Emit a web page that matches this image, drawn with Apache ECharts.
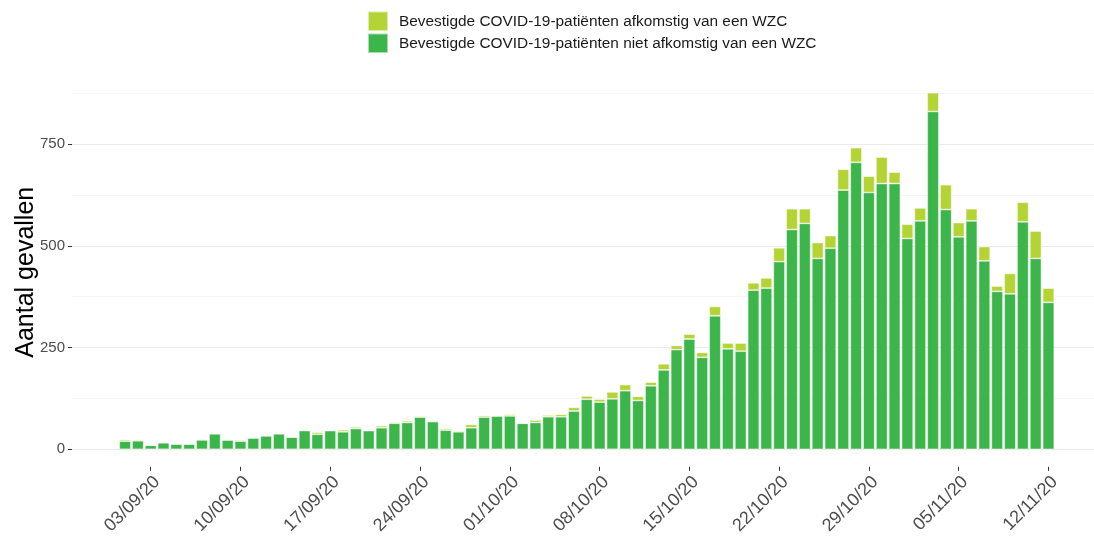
<!DOCTYPE html>
<html>
<head>
<meta charset="utf-8">
<script src="https://cdn.jsdelivr.net/npm/echarts@6/dist/echarts.min.js"></script>
<style>
html,body{margin:0;padding:0;background:#fff;}
#chart{width:1094px;height:538px;}
</style>
</head>
<body>
<div id="chart"></div>
<script>
const dates = [
  "01/09/20","02/09/20","03/09/20","04/09/20","05/09/20","06/09/20","07/09/20","08/09/20","09/09/20","10/09/20",
  "11/09/20","12/09/20","13/09/20","14/09/20","15/09/20","16/09/20","17/09/20","18/09/20","19/09/20","20/09/20",
  "21/09/20","22/09/20","23/09/20","24/09/20","25/09/20","26/09/20","27/09/20","28/09/20","29/09/20","30/09/20",
  "01/10/20","02/10/20","03/10/20","04/10/20","05/10/20","06/10/20","07/10/20","08/10/20","09/10/20","10/10/20",
  "11/10/20","12/10/20","13/10/20","14/10/20","15/10/20","16/10/20","17/10/20","18/10/20","19/10/20","20/10/20",
  "21/10/20","22/10/20","23/10/20","24/10/20","25/10/20","26/10/20","27/10/20","28/10/20","29/10/20","30/10/20",
  "31/10/20","01/11/20","02/11/20","03/11/20","04/11/20","05/11/20","06/11/20","07/11/20","08/11/20","09/11/20",
  "10/11/20","11/11/20","12/11/20"
];
// Bevestigde COVID-19-patiënten niet afkomstig van een WZC
const nietWZC = [
  20,21,10,16,13,13,23,38,23,20,
  28,33,38,30,46,37,46,43,51,46,
  53,64,66,79,68,47,43,53,79,82,
  82,64,66,80,80,94,123,116,124,144,
  120,156,195,245,271,226,328,247,241,391,
  396,461,540,555,469,494,637,705,631,653,
  653,518,561,830,589,522,561,463,388,382,
  559,469,361
];
// Bevestigde COVID-19-patiënten afkomstig van een WZC
const wzc = [
  4,3,0,2,0,0,2,2,0,3,
  0,1,2,0,1,5,0,5,4,0,
  5,3,4,3,3,4,3,8,4,0,
  4,0,6,4,6,9,8,7,17,15,
  10,9,15,10,12,12,23,14,20,18,
  25,34,51,36,39,31,51,36,40,65,
  28,35,32,46,61,35,30,35,13,50,
  48,67,35
];
const xTickLabels = ["03/09/20","10/09/20","17/09/20","24/09/20","01/10/20","08/10/20","15/10/20","22/10/20","29/10/20","05/11/20","12/11/20"];
const yTickValues = [0, 250, 500, 750];
const seriesNames = [
  "Bevestigde COVID-19-patiënten afkomstig van een WZC",
  "Bevestigde COVID-19-patiënten niet afkomstig van een WZC"
];

const xTickIdx = xTickLabels.map(l => dates.indexOf(l));
const font = "'Liberation Sans', Arial, Helvetica, sans-serif";

const chart = echarts.init(document.getElementById('chart'), null, {renderer: 'canvas'});
chart.setOption({
  animation: false,
  backgroundColor: '#ffffff',
  textStyle: {fontFamily: font},
  legend: {
    orient: 'vertical',
    left: 367,
    top: 10.5,
    padding: 0,
    itemWidth: 20,
    itemHeight: 19.5,
    itemGap: 0.5,
    icon: 'rect',
    data: seriesNames,
    textStyle: {fontSize: 15.4, color: '#1a1a1a', fontFamily: font, padding: [0, 0, 0, 6]}
  },
  grid: {left: 72, right: 0, top: 73.2, bottom: 88.7, containLabel: false},
  xAxis: {
    type: 'value',
    min: -4.136,
    max: 75.55,
    offset: 17.5,
    axisLine: {show: false, onZero: false},
    splitLine: {show: false},
    axisTick: {show: true, length: 4, lineStyle: {color: '#333333', width: 1}, customValues: xTickIdx},
    axisLabel: {
      customValues: xTickIdx,
      formatter: v => dates[Math.round(v)],
      rotate: 45,
      verticalAlign: 'top',
      fontSize: 18,
      color: '#4d4d4d',
      fontFamily: font,
      margin: 6
    }
  },
  yAxis: {
    type: 'value',
    min: 0,
    max: 924,
    interval: 250,
    name: 'Aantal gevallen',
    nameLocation: 'middle',
    nameGap: 33,
    nameMoveOverlap: false,
    nameTextStyle: {fontSize: 25, color: '#000000', fontFamily: font, padding: [0, 22, 0, 0]},
    axisLine: {show: false, onZero: false},
    axisTick: {show: true, length: 4, lineStyle: {color: '#333333', width: 1}, customValues: yTickValues},
    axisLabel: {customValues: yTickValues, fontSize: 15, color: '#4d4d4d', fontFamily: font, margin: 7},
    splitLine: {show: true, lineStyle: {color: '#ebebeb', width: 1.1}},
    minorTick: {show: false, splitNumber: 2},
    minorSplitLine: {show: true, lineStyle: {color: '#f4f4f4', width: 0.8}}
  },
  series: [
    {
      name: seriesNames[1],
      type: 'bar',
      stack: 'total',
      barWidth: 11.6,
      encode: {x: 1, y: 0},
      data: nietWZC.map((v, i) => [v, i]),
      itemStyle: {color: '#3cb54b', borderColor: 'rgba(255,255,255,0.55)', borderWidth: 0.8}
    },
    {
      name: seriesNames[0],
      type: 'bar',
      stack: 'total',
      barWidth: 11.6,
      encode: {x: 1, y: 0},
      data: wzc.map((v, i) => [v, i]),
      itemStyle: {color: '#b4d335', borderColor: 'rgba(255,255,255,0.55)', borderWidth: 0.8}
    }
  ]
});
</script>
</body>
</html>
